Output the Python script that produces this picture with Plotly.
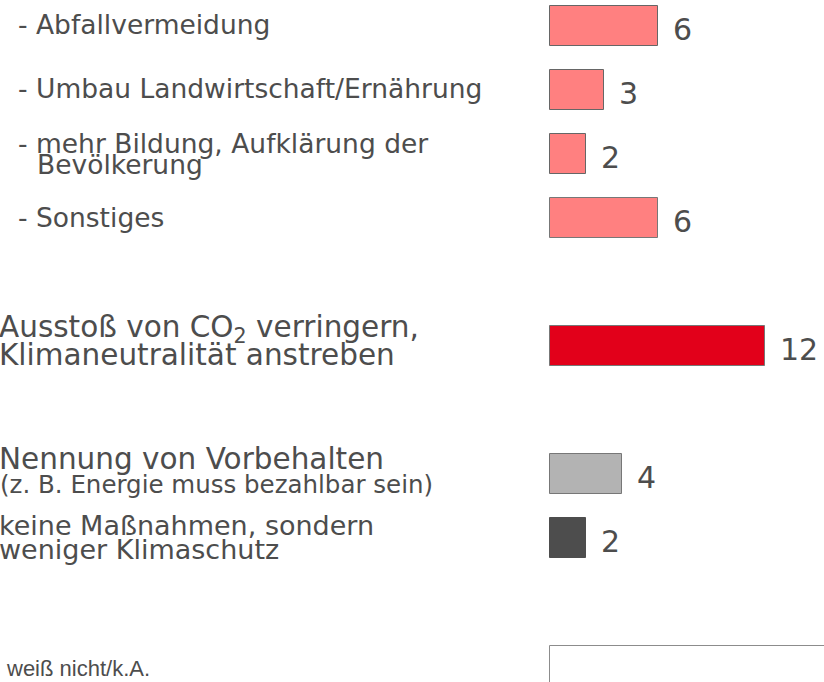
import plotly.graph_objects as go

# ---------------- data ----------------
categories = [
    "- Abfallvermeidung",
    "- Umbau Landwirtschaft/Ernährung",
    "- mehr Bildung, Aufklärung der<br>Bevölkerung",
    "- Sonstiges",
    "Ausstoß von CO<sub>2</sub> verringern,<br>Klimaneutralität anstreben",
    "Nennung von Vorbehalten<br>(z. B. Energie muss bezahlbar sein)",
    "keine Maßnahmen, sondern<br>weniger Klimaschutz",
    "weiß nicht/k.A.",
]
values = [6, 3, 2, 6, 12, 4, 2, 20]
value_labels = ["6", "3", "2", "6", "12", "4", "2", "20"]

# ---------------- styling / layout ----------------
bar_colors = ["#FF8080", "#FF8080", "#FF8080", "#FF8080",
              "#E2001A", "#B3B3B3", "#4D4D4D", "#FFFFFF"]
edge_colors = ["#666666", "#666666", "#666666", "#777777",
               "#777777", "#777777", "#4D4D4D", "#8C8C8C"]
row_slots = [0, 1, 2, 3, 5, 7, 8, 10]
TEXT = "#4D4D4D"
FONT = "DejaVu Sans, Verdana, sans-serif"
NARROW = "Liberation Sans, Arial, sans-serif"

# per-label line styles: list of (font size, xshift px, yshift px, font family)
line_styles = [
    [(26.5, 16, 2, FONT)],
    [(26.5, 16, 2, FONT)],
    [(26.5, 16, 11, FONT), (26.5, 35, -10, FONT)],
    [(26.5, 16, 1, FONT)],
    [(29.5, -3, 17, FONT), (29.5, -3, -9, FONT)],
    [(29.5, -3, 15, FONT), (24.5, -2, -10, FONT)],
    [(27, -3, 13, FONT), (27, -3, -11, FONT)],
    [(22, 4, -2, NARROW)],
]

W, H = 824, 682
PX_PER_UNIT = 17.93
ROW_PX = 64
FIRST_ROW_PX = 26
ZERO_PX = 550
DOMAIN_LEFT_PX = 547

fig = go.Figure()
fig.add_trace(go.Bar(
    x=values,
    y=row_slots,
    orientation="h",
    width=40 / ROW_PX,
    marker=dict(color=bar_colors, line=dict(color=edge_colors, width=1)),
    hoverinfo="skip",
    showlegend=False,
))

annotations = []
for cat, slot, styles in zip(categories, row_slots, line_styles):
    lines = cat.split("<br>")
    for text, (fs, xs, ys, fam) in zip(lines, styles):
        annotations.append(dict(
            text=text, xref="paper", x=0, yref="y", y=slot,
            xanchor="left", yanchor="middle", xshift=xs, yshift=ys,
            showarrow=False, align="left",
            font=dict(family=fam, size=fs, color=TEXT),
        ))
for v, lab, slot in zip(values, value_labels, row_slots):
    annotations.append(dict(
        text=lab, xref="x", x=v, yref="y", y=slot,
        xanchor="left", yanchor="middle", xshift=13, yshift=-3,
        showarrow=False,
        font=dict(family=FONT, size=30, color=TEXT),
    ))

x_lo = -(ZERO_PX - DOMAIN_LEFT_PX) / PX_PER_UNIT
x_hi = (W - ZERO_PX) / PX_PER_UNIT

fig.update_layout(
    width=W, height=H,
    margin=dict(l=0, r=0, t=0, b=0),
    paper_bgcolor="white", plot_bgcolor="white",
    xaxis=dict(domain=[DOMAIN_LEFT_PX / W, 1], range=[x_lo, x_hi],
               visible=False, fixedrange=True),
    yaxis=dict(domain=[0, 1],
               range=[(H - FIRST_ROW_PX) / ROW_PX, -FIRST_ROW_PX / ROW_PX],
               visible=False, fixedrange=True),
    annotations=annotations,
    bargap=0,
)

fig.write_html("out.html", config={"displayModeBar": False})
